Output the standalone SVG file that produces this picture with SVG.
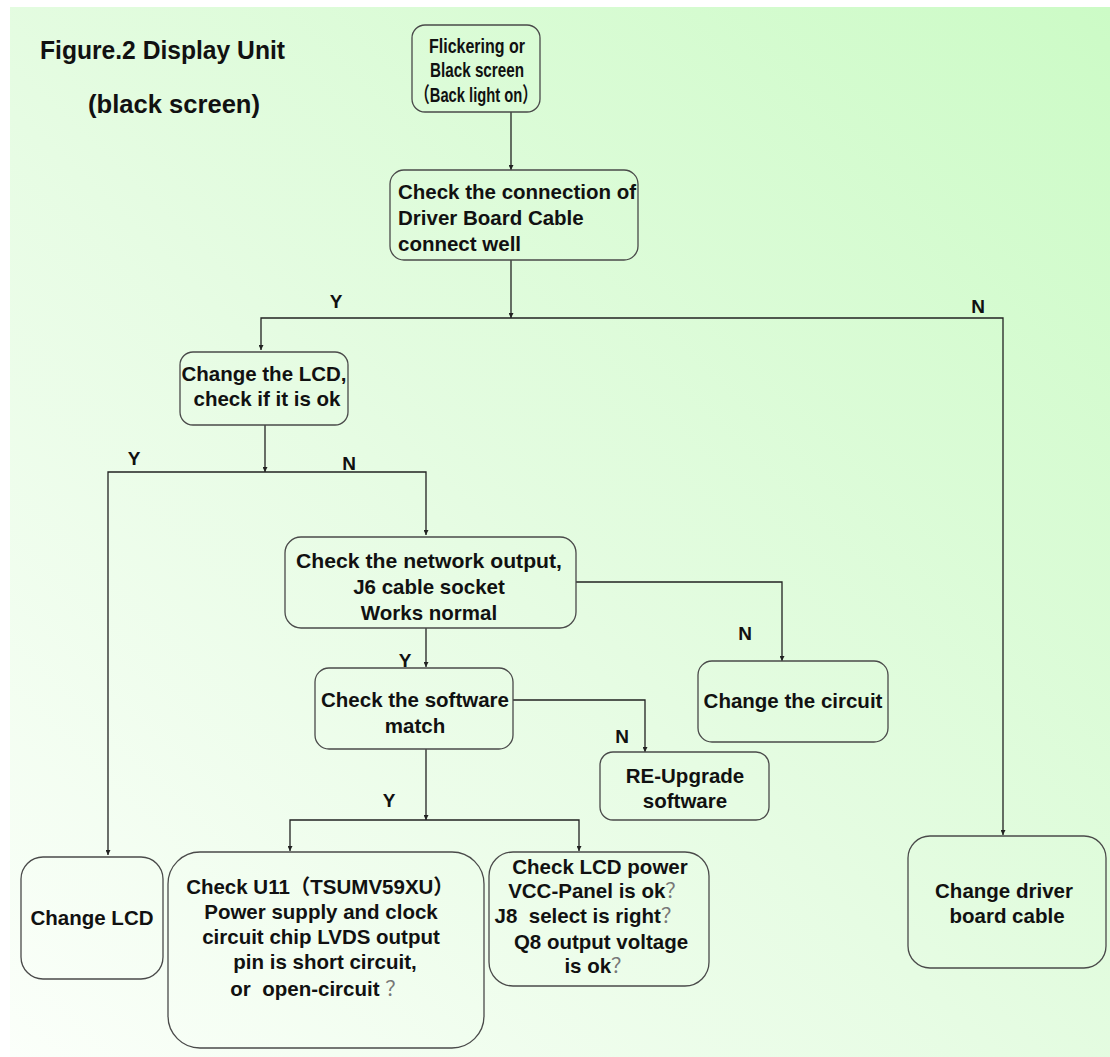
<svg xmlns="http://www.w3.org/2000/svg" width="1110" height="1057" viewBox="0 0 1110 1057">
<defs>
<linearGradient id="bg" x1="1" y1="0" x2="0" y2="1">
<stop offset="0" stop-color="#ccfbc6"/>
<stop offset="0.55" stop-color="#e6fce3"/>
<stop offset="1" stop-color="#fbfffa"/>
</linearGradient>
<marker id="ah" viewBox="0 0 10 10" refX="10" refY="5" markerWidth="5" markerHeight="5" orient="auto" markerUnits="userSpaceOnUse">
<path d="M0,0 L10,5 L0,10 z" fill="#222"/>
</marker>
<style>
.box{fill:none;stroke:#4a4a4a;stroke-width:1.3}
.t{font-family:"Liberation Sans","Noto Sans CJK SC",Arial,sans-serif;font-weight:bold;font-size:20.5px;fill:#111;text-anchor:middle}
.tl{text-anchor:start}
.lab{font-family:"Liberation Sans",Arial,sans-serif;font-weight:bold;font-size:19px;fill:#111;text-anchor:middle}
.title{font-family:"Liberation Sans",Arial,sans-serif;font-weight:bold;font-size:25px;fill:#111}
.q{font-weight:normal;fill:#777}
.c{fill:none;stroke:#222;stroke-width:1.3}
.a{marker-end:url(#ah)}
.big{font-size:21px}
</style>
</defs>
<rect x="0" y="0" width="1110" height="1057" fill="#ffffff"/>
<rect x="10" y="7" width="1100" height="1050" fill="url(#bg)"/>

<g id="title">
<text class="title" x="40" y="59" textLength="245" lengthAdjust="spacingAndGlyphs">Figure.2 Display Unit</text>
<text class="title" x="88" y="113" textLength="172" lengthAdjust="spacingAndGlyphs">(black screen)</text>
</g>

<g id="connectors">
<path class="c a" d="M511,112 V170"/>
<path class="c a" d="M511,260 V318"/>
<path class="c a" d="M511,318 H261 V350"/>
<path class="c a" d="M511,318 H1003 V835"/>
<path class="c a" d="M265,425 V472"/>
<path class="c a" d="M265,472 H108 V855"/>
<path class="c a" d="M265,472 H426 V535"/>
<path class="c a" d="M576,582 H782 V661"/>
<path class="c a" d="M426,628 V667"/>
<path class="c a" d="M513,700 H645 V752"/>
<path class="c a" d="M426,749 V820"/>
<path class="c a" d="M426,820 H290 V851"/>
<path class="c a" d="M426,820 H579 V851"/>
<text class="lab" x="336" y="308">Y</text>
<text class="lab" x="978" y="313">N</text>
<text class="lab" x="134" y="465">Y</text>
<text class="lab" x="349" y="470">N</text>
<text class="lab" x="745" y="640">N</text>
<text class="lab" x="405" y="667">Y</text>
<text class="lab" x="622" y="743">N</text>
<text class="lab" x="389" y="807">Y</text>
</g>

<g id="n1">
<rect class="box" x="412" y="25" width="128" height="87" rx="13"/>
<text class="t big" x="477" y="53" textLength="96" lengthAdjust="spacingAndGlyphs">Flickering or</text>
<text class="t big" x="477" y="77" textLength="94" lengthAdjust="spacingAndGlyphs">Black screen</text>
<text class="t big" x="476" y="102" textLength="122" lengthAdjust="spacingAndGlyphs">（Back light on）</text>
</g>

<g id="n2">
<rect class="box" x="390" y="170" width="248" height="90" rx="14"/>
<text class="t tl" x="398" y="199" textLength="238" lengthAdjust="spacingAndGlyphs">Check the connection of</text>
<text class="t tl" x="398" y="225">Driver Board Cable</text>
<text class="t tl" x="398" y="251"> connect well</text>
</g>

<g id="n3">
<rect class="box" x="180" y="352" width="168" height="73" rx="13"/>
<text class="t" x="264" y="381">Change the LCD,</text>
<text class="t" x="267" y="406">check if it is ok</text>
</g>

<g id="n4">
<rect class="box" x="21" y="857" width="142" height="122" rx="22"/>
<text class="t" x="92" y="925">Change LCD</text>
</g>

<g id="n5">
<rect class="box" x="285" y="537" width="291" height="91" rx="16"/>
<text class="t" x="429" y="568" textLength="266" lengthAdjust="spacingAndGlyphs">Check the network output,</text>
<text class="t" x="429" y="594">J6 cable socket</text>
<text class="t" x="429" y="620">Works normal</text>
</g>

<g id="n6">
<rect class="box" x="698" y="661" width="190" height="81" rx="14"/>
<text class="t" x="793" y="708">Change the circuit</text>
</g>

<g id="n7">
<rect class="box" x="315" y="668" width="198" height="81" rx="14"/>
<text class="t" x="415" y="707">Check the software</text>
<text class="t" x="415" y="733">match</text>
</g>

<g id="n8">
<rect class="box" x="600" y="752" width="169" height="68" rx="13"/>
<text class="t" x="685" y="783">RE-Upgrade</text>
<text class="t" x="685" y="808">software</text>
</g>

<g id="n9">
<rect class="box" x="908" y="836" width="198" height="132" rx="22"/>
<text class="t" x="1004" y="898">Change driver</text>
<text class="t" x="1007" y="923"> board cable</text>
</g>

<g id="n10">
<rect class="box" x="168" y="852" width="316" height="196" rx="32"/>
<text class="t" x="320" y="894">Check U11（TSUMV59XU）</text>
<text class="t" x="321" y="919">Power supply and clock</text>
<text class="t" x="321" y="944">circuit chip LVDS output</text>
<text class="t" x="325" y="969">pin is short circuit,</text>
<text class="t" x="318" y="996">or&#160; open-circuit <tspan class="q">？</tspan></text>
</g>

<g id="n11">
<rect class="box" x="489" y="852" width="220" height="134" rx="24"/>
<text class="t" x="600" y="874">Check LCD power</text>
<text class="t" x="597" y="898">VCC-Panel is ok<tspan class="q">？</tspan></text>
<text class="t" x="588" y="923">J8&#160; select is right<tspan class="q">？</tspan></text>
<text class="t" x="601" y="949">Q8 output voltage</text>
<text class="t" x="598" y="973">is ok<tspan class="q">？</tspan></text>
</g>
</svg>
